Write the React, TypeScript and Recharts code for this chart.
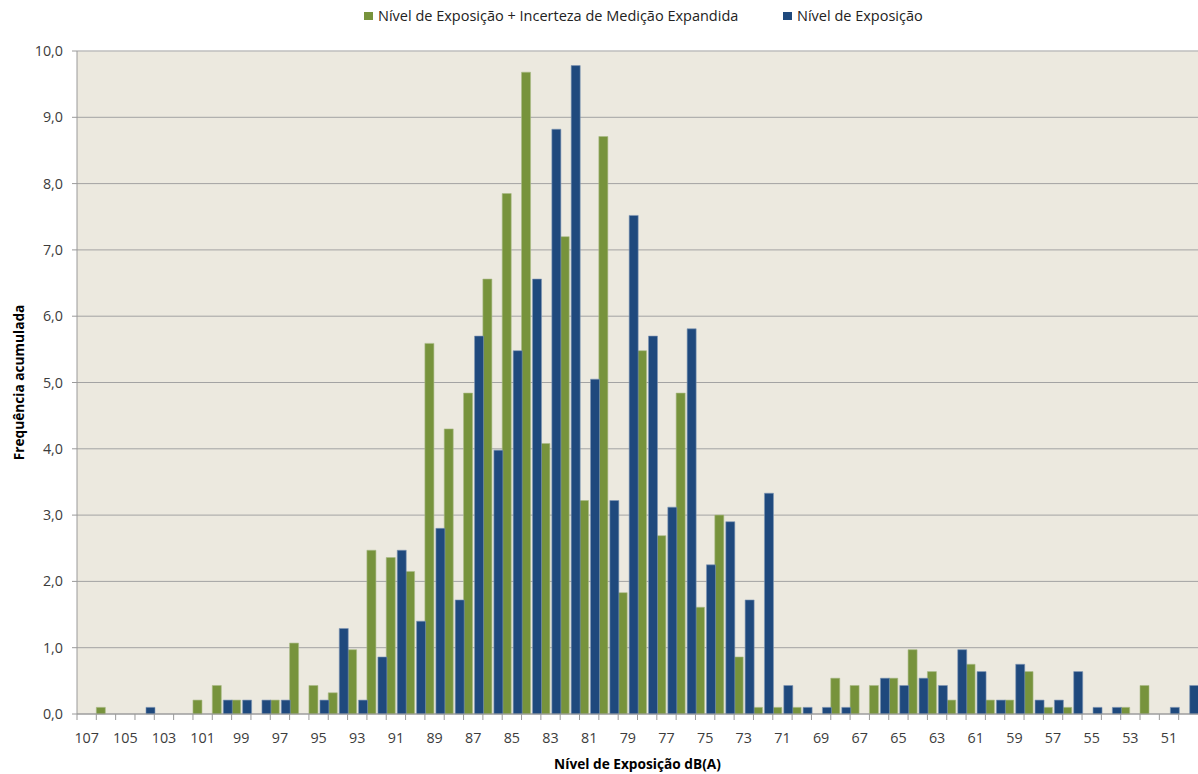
import React from "react";
import { BarChart, Bar, XAxis, YAxis, CartesianGrid, Legend, ReferenceLine } from "recharts";

const niveis = [
    "107", "106", "105", "104", "103", "102", "101", "100", "99", "98",
    "97", "96", "95", "94", "93", "92", "91", "90", "89", "88",
    "87", "86", "85", "84", "83", "82", "81", "80", "79", "78",
    "77", "76", "75", "74", "73", "72", "71", "70", "69", "68",
    "67", "66", "65", "64", "63", "62", "61", "60", "59", "58",
    "57", "56", "55", "54", "53", "52", "51", "50",
];

// Nível de Exposição + Incerteza de Medição Expandida
const comIncerteza = [
    0, 0.1, 0, 0, 0, 0, 0.21, 0.43, 0.21, 0,
    0.21, 1.07, 0.43, 0.32, 0.97, 2.47, 2.36, 2.15, 5.59, 4.3,
    4.84, 6.56, 7.85, 9.68, 4.08, 7.2, 3.22, 8.71, 1.83, 5.48,
    2.69, 4.84, 1.61, 3.0, 0.86, 0.1, 0.1, 0.1, 0, 0.54,
    0.43, 0.43, 0.54, 0.97, 0.64, 0.21, 0.75, 0.21, 0.21, 0.64,
    0.1, 0.1, 0, 0, 0.1, 0.43, 0, 0,
];

// Nível de Exposição
const exposicao = [
    0, 0, 0, 0.1, 0, 0, 0, 0.21, 0.21, 0.21,
    0.21, 0, 0.21, 1.29, 0.21, 0.86, 2.47, 1.4, 2.8, 1.72,
    5.7, 3.98, 5.48, 6.56, 8.82, 9.78, 5.05, 3.22, 7.52, 5.7,
    3.12, 5.81, 2.25, 2.9, 1.72, 3.33, 0.43, 0.1, 0.1, 0.1,
    0, 0.54, 0.43, 0.54, 0.43, 0.97, 0.64, 0.21, 0.75, 0.21,
    0.21, 0.64, 0.1, 0.1, 0, 0, 0.1, 0.43,
];

const yTicks = [0, 1, 2, 3, 4, 5, 6, 7, 8, 9, 10];

const NOME_INCERTEZA = "Nível de Exposição + Incerteza de Medição Expandida";
const NOME_EXPOSICAO = "Nível de Exposição";

const data = niveis.map((n, i) => ({
    nivel: n,
    incerteza: comIncerteza[i],
    exposicao: exposicao[i],
}));

const FONT = "'Open Sans', 'Noto Sans', sans-serif";
const VERDE = "#77933C";
const AZUL = "#1F497D";
const EIXO = "#9a9a9a";

const fmt = (v: number) => v.toFixed(1).replace(".", ",");

// tick marks sit between categories, labels on every other category
const XTick = (props: any) => {
    const { x, y, payload, index } = props;
    const half = payload?.offset ?? 9.66;
    const i = payload?.index ?? index ?? 0;
    return (
        <g>
            <line x1={x - half} y1={y} x2={x - half} y2={y + 6} stroke={EIXO} />
            {i % 2 === 0 && (
                <text x={x} y={y + 29} textAnchor="middle" fill="#3c3c3c" fontSize={14.3} fontFamily={FONT}>
                    {payload.value}
                </text>
            )}
        </g>
    );
};

const YTitle = (props: any) => {
    const vb = props.viewBox || { y: 51, height: 663 };
    const cx = 18;
    const cy = vb.y + vb.height / 2;
    return (
        <text x={cx} y={cy} transform={`rotate(-90 ${cx} ${cy})`} textAnchor="middle" dominantBaseline="central"
            fontSize={13.7} fontWeight="bold" fill="#000" fontFamily={FONT}>
            Frequência acumulada
        </text>
    );
};

const XTitle = (props: any) => {
    const vb = props.viewBox || { x: 77, width: 1121 };
    return (
        <text x={vb.x + vb.width / 2} y={769} textAnchor="middle" fontSize={13.7} fontWeight="bold" fill="#000" fontFamily={FONT}>
            Nível de Exposição dB(A)
        </text>
    );
};

const ordem = [NOME_INCERTEZA, NOME_EXPOSICAO];
const itemLeft = [364, 783];

const Legenda = ({ payload }: any) => {
    const itens = ordem.map((nome) => (payload || []).find((p: any) => p.value === nome)).filter(Boolean);
    return (
        <div style={{ position: "relative", width: 1198, height: 34 }}>
            {itens.map((p: any, i: number) => (
                <div key={p.value} style={{ position: "absolute", left: itemLeft[i], top: 6, display: "flex", alignItems: "center", fontFamily: FONT, fontSize: 14.5, color: "#222", whiteSpace: "nowrap" }}>
                    <span style={{ display: "inline-block", width: 9, height: 8, background: p.color, marginRight: 5 }} />
                    {p.value}
                </div>
            ))}
        </div>
    );
};

export default function App() {
    return (
        <div style={{ position: "fixed", left: 0, top: 0, width: 1198, height: 774, background: "#fff" }}>
            <BarChart width={1198} height={774} data={data} margin={{ top: 51, right: 0, bottom: 0, left: 0 }}
                barCategoryGap={0} barGap={2}>
                <CartesianGrid vertical={false} stroke="#a3a3a3" fill="#ECE9DF" />
                <ReferenceLine y={10} stroke="#cbcbcb" ifOverflow="extendDomain" />
                <XAxis dataKey="nivel" interval={0} height={60} tickSize={0} tickMargin={0} tickLine={false}
                    stroke={EIXO} tick={<XTick />} label={{ content: <XTitle /> }} />
                <YAxis domain={[0, 10]} ticks={yTicks} width={77} tickFormatter={fmt} tickSize={5} tickMargin={9}
                    stroke={EIXO} interval={0} tick={{ fill: "#3c3c3c", fontSize: 14.3, fontFamily: FONT }}
                    label={{ content: <YTitle /> }} />
                <Legend verticalAlign="middle" align="center" content={<Legenda />}
                    wrapperStyle={{ position: "absolute", top: 0, left: 0, width: 1198 }} />
                <Bar dataKey="incerteza" name={NOME_INCERTEZA} fill={VERDE}
                    stroke="#a9bb86" strokeWidth={0.6} isAnimationActive={false} />
                <Bar dataKey="exposicao" name={NOME_EXPOSICAO} fill={AZUL}
                    stroke="#7f97b5" strokeWidth={0.6} isAnimationActive={false} />
            </BarChart>
        </div>
    );
}
